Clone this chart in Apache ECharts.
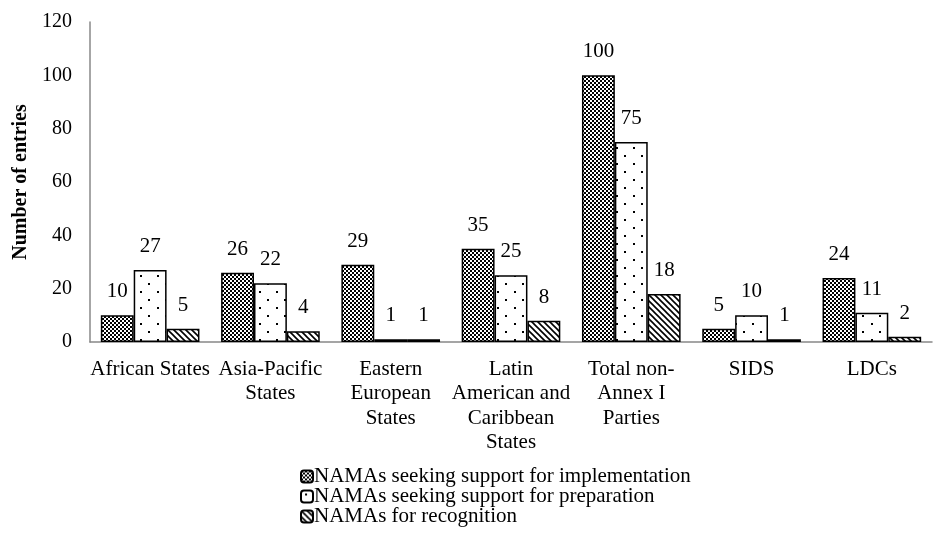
<!DOCTYPE html>
<html>
<head>
<meta charset="utf-8">
<script src="https://cdn.jsdelivr.net/npm/echarts@6/dist/echarts.min.js"></script>
<style>html,body{margin:0;padding:0;background:#fff}#c{width:935px;height:533px}</style>
</head>
<body>
<div id="c"></div>
<script>
var categories = ["African States", "Asia-Pacific\nStates", "Eastern\nEuropean\nStates", "Latin\nAmerican and\nCaribbean\nStates", "Total non-\nAnnex I\nParties", "SIDS", "LDCs"];
var seriesNames = ["NAMAs seeking support for implementation", "NAMAs seeking support for preparation", "NAMAs for recognition"];
var implementation = [10, 26, 29, 35, 100, 5, 24];
var preparation = [27, 22, 1, 25, 75, 10, 11];
var recognition = [5, 4, 1, 8, 18, 1, 2];
var yTicks = [0, 20, 40, 60, 80, 100, 120];

function mk(w, h, draw) {
  var c = document.createElement('canvas');
  c.width = w; c.height = h;
  var g = c.getContext('2d');
  g.fillStyle = '#fff'; g.fillRect(0, 0, w, h);
  draw(g);
  return c;
}
var checker = mk(4, 4, function (g) {
  g.fillStyle = '#000';
  g.fillRect(0, 0, 2, 2); g.fillRect(2, 2, 2, 2);
});
var dots = mk(17, 16, function (g) {
  g.fillStyle = '#000';
  g.fillRect(4, 3, 2, 2); g.fillRect(12, 11, 2, 2);
});
var hatch = mk(6, 6, function (g) {
  g.strokeStyle = '#000'; g.lineWidth = 1.6;
  g.beginPath();
  g.moveTo(-1, -1); g.lineTo(7, 7);
  g.moveTo(-4, 2); g.lineTo(4, 10);
  g.moveTo(2, -4); g.lineTo(10, 4);
  g.stroke();
});
var patterns = [checker, dots, hatch];
var datas = [implementation, preparation, recognition];
var font = 'Liberation Serif';

var chart = echarts.init(document.getElementById('c'));
chart.setOption({
  animation: false,
  grid: { left: 90, right: 3, top: 22, bottom: 191 },
  legend: {
    orient: 'vertical', left: 295, top: 461, height: 120, itemGap: -1,
    itemWidth: 12, itemHeight: 12,
    textStyle: { fontFamily: font, fontSize: 21, color: '#000', padding: [0, 0, 0, -4] },
    data: seriesNames
  },
  xAxis: {
    type: 'category', data: categories,
    axisLine: { lineStyle: { color: '#888', width: 1.5 } },
    axisTick: { show: false },
    axisLabel: { interval: 0, fontFamily: font, fontSize: 21, color: '#000', lineHeight: 24.5, margin: 15 }
  },
  yAxis: {
    type: 'value', min: 0, max: 120, interval: 20,
    name: 'Number of entries', nameLocation: 'middle', nameGap: 58,
    nameTextStyle: { fontFamily: font, fontSize: 20, fontWeight: 'bold', color: '#000' },
    axisLine: { show: true, lineStyle: { color: '#888', width: 1.5 } },
    axisTick: { show: false },
    splitLine: { show: false },
    axisLabel: { fontFamily: font, fontSize: 20, color: '#000', margin: 18,
      formatter: function (v) { return yTicks.indexOf(v) >= 0 ? String(v) : ''; } }
  },
  series: datas.map(function (d, i) {
    return {
      name: seriesNames[i], type: 'bar', data: d,
      barGap: 0, barCategoryGap: '18%',
      itemStyle: { color: { image: patterns[i], repeat: 'repeat' }, borderColor: '#000', borderWidth: 1.5 },
      label: { show: true, position: 'top', distance: 13, fontFamily: font, fontSize: 21, color: '#000' }
    };
  })
});
</script>
</body>
</html>
